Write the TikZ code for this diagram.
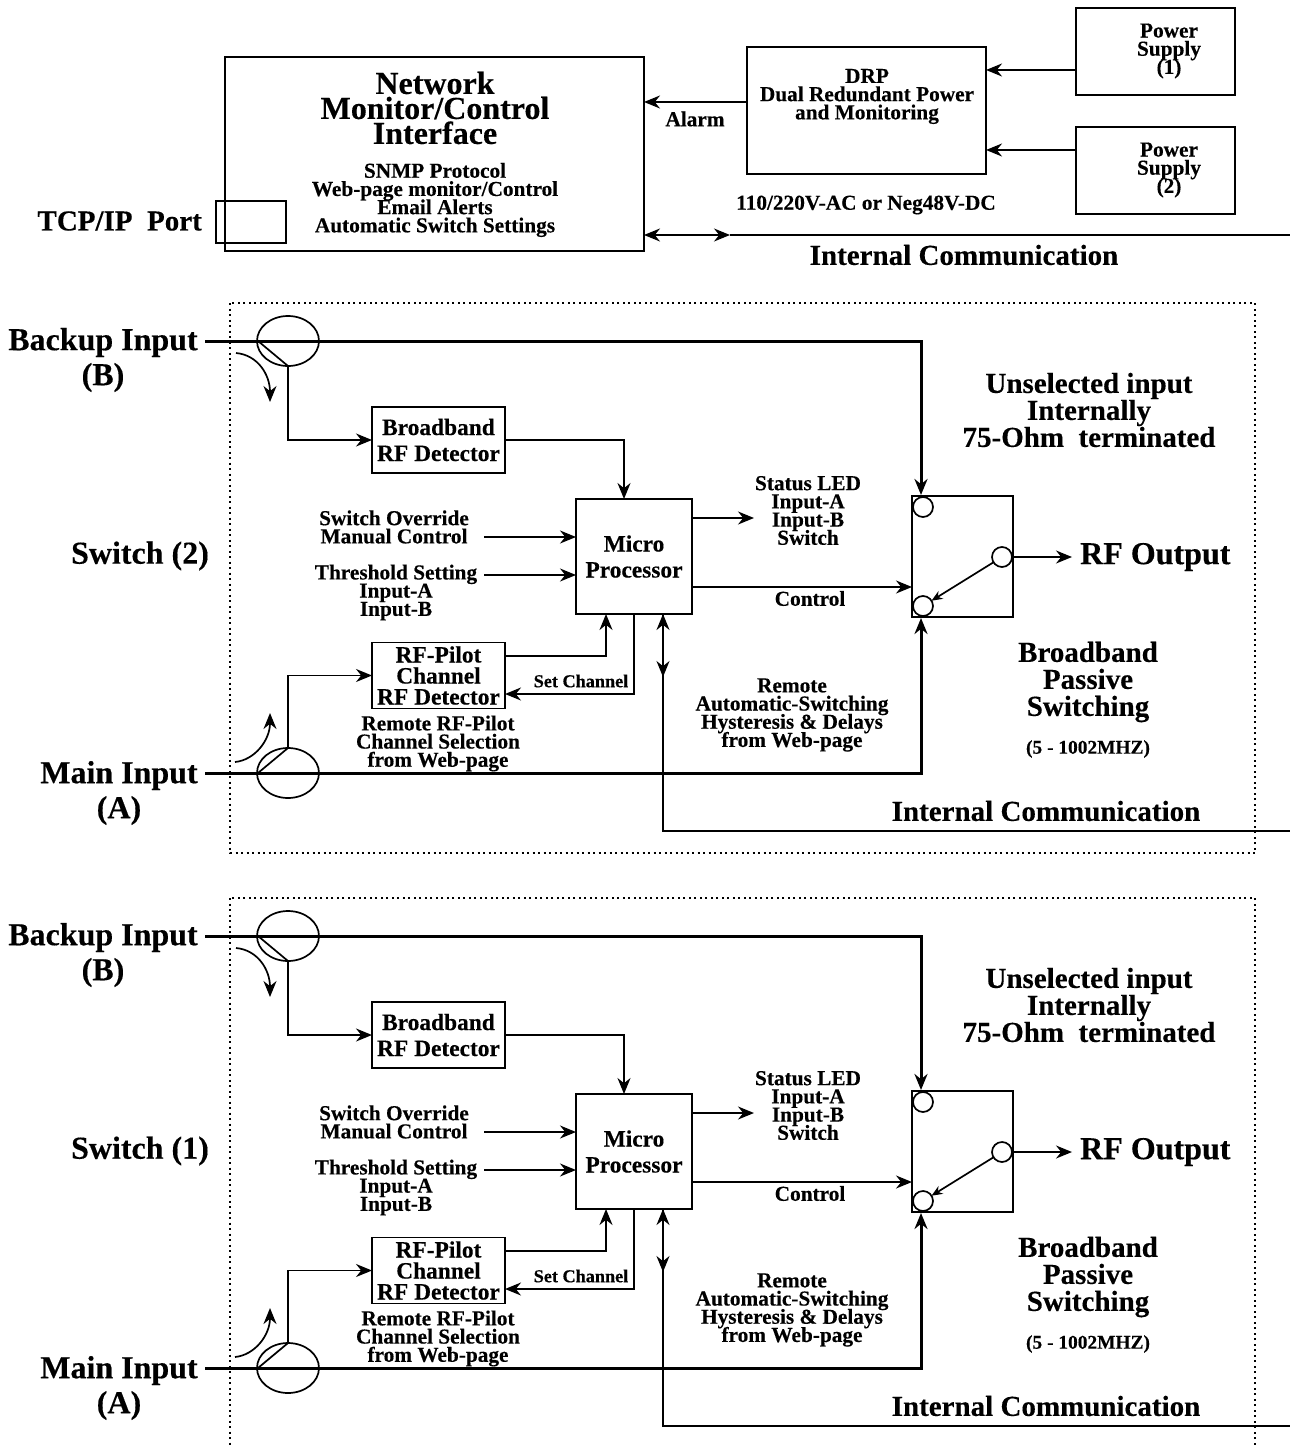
\documentclass[tikz,border=0pt]{standalone}
\usepackage{fontspec}
\setmainfont[BoldFeatures={FakeBold=0.3}]{Liberation Serif}
\usetikzlibrary{arrows.meta,shapes.geometric}
\lineskiplimit=-100pt
\tikzset{
  >={Stealth[length=16pt,width=13pt]},
  linethin/.style={line width=1.7pt},
  linethick/.style={line width=3pt},
  boxnode/.style={draw,line width=1.7pt,rectangle,outer sep=0pt,inner sep=0pt,align=center},
  tapnode/.style={draw,linethin,ellipse,minimum width=62pt,minimum height=50pt,inner sep=0pt,outer sep=0pt},
  contactnode/.style={draw,linethin,circle,minimum size=20pt,inner sep=0pt,outer sep=0pt},
  labelhuge/.style={font=\fontsize{32}{25}\selectfont\bfseries,align=center,inner sep=0pt},
  labelbig/.style={font=\fontsize{32}{35}\selectfont\bfseries,align=center,inner sep=0pt},
  labelmid/.style={font=\fontsize{29}{27}\selectfont\bfseries,align=center,inner sep=0pt},
  labelbox/.style={font=\fontsize{23.4}{26}\selectfont\bfseries,align=center},
  labelsmall/.style={font=\fontsize{21.3}{18.2}\selectfont\bfseries,align=center,inner sep=0pt},
  labeltiny/.style={font=\fontsize{18.2}{18}\selectfont\bfseries,align=center,inner sep=0pt},
}
\begin{document}
\begin{tikzpicture}[x=1pt,y=-1pt]
  \useasboundingbox (0,0) rectangle (1290,1447);
  \clip (0,0) rectangle (1290,1447);

  % Partie haute : interface reseau
  \node[boxnode,minimum width=419pt,minimum height=194pt] (network) at (434.5,154) {};
  \node[labelhuge] (networktitle) at (435,108) {Network\\Monitor/Control\\Interface};
  \node[labelsmall] (networklist) at (435,200) {SNMP Protocol\\Web-page monitor/Control\\Email Alerts\\Automatic Switch Settings};
  \node[boxnode,minimum width=70pt,minimum height=42pt] (tcpbox) at (251,222) {};
  \node[labelmid,anchor=east] (tcplabel) at (202,221) {TCP/IP\ \ Port};

  \node[boxnode,minimum width=239pt,minimum height=127pt] (drp) at (866.5,110.5) {};
  \node[labelsmall] (drptext) at (867,96.5) {DRP\\Dual Redundant Power\\and Monitoring};
  \node[labelsmall] (alarm) at (695,119) {Alarm};
  \node[labelsmall] (mains) at (866,205) {110/220V-AC or Neg48V-DC};

  \node[boxnode,minimum width=159pt,minimum height=87pt] (supplya) at (1155.5,51.5) {};
  \node[labelsmall] (supplyatext) at (1169,51) {Power\\Supply\\(1)};
  \node[boxnode,minimum width=159pt,minimum height=87pt] (supplyb) at (1155.5,170.5) {};
  \node[labelsmall] (supplybtext) at (1169,170) {Power\\Supply\\(2)};

  \draw[linethin,->] (supplya.west |- 0,70) -- (drp.east |- 0,70);
  \draw[linethin,->] (supplyb.west |- 0,150) -- (drp.east |- 0,150);
  \draw[linethin,->] (drp.west |- 0,102) -- (network.east |- 0,102);

  \coordinate (commtop) at (730,235);
  \coordinate (commtopend) at (1290,235);
  \draw[linethin,<->] (network.east |- commtop) -- (commtop);
  \draw[linethin] (commtop) -- (commtopend);
  \node[labelmid] (commtoplabel) at (964,255) {Internal Communication};

  % Les deux commutateurs
  \foreach \yo/\swname in {0/Switch (2), 595/Switch (1)} {
    \begin{scope}[shift={(0,\yo)}]
      \draw[line width=1.5pt,dash pattern=on 2pt off 3.5pt] (230,303) rectangle (1255,853);

      \node[labelbig] (backup) at (103,360) {Backup Input\\(B)};
      \node[labelbig] (main) at (119,793) {Main Input\\(A)};
      \node[labelbig] (swlabel) at (140,556) {\swname};

      % Coupleurs d'entree
      \node[tapnode] (tapb) at (288,341) {};
      \node[tapnode] (tapa) at (288,773) {};

      % Blocs
      \node[boxnode,labelbox,minimum width=133pt,minimum height=66pt] (detector) at (438.5,440) {Broadband\\RF Detector};
      \node[boxnode,labelbox,minimum width=133pt,minimum height=66pt,font=\fontsize{23.4}{21}\selectfont\bfseries] (pilot) at (438.5,675.5) {RF-Pilot\\Channel\\RF Detector};
      \node[boxnode,labelbox,minimum width=116pt,minimum height=115pt] (micro) at (634,556.5) {Micro\\Processor};
      \node[boxnode,minimum width=101pt,minimum height=121pt] (rfswitch) at (962.5,556.5) {};
      \node[contactnode] (contactb) at (923,507) {};
      \node[contactnode] (contacta) at (923,606) {};
      \node[contactnode] (contactout) at (1002,557) {};

      % Textes
      \node[labelsmall] (statusled) at (808,510.5) {Status LED\\Input-A\\Input-B\\Switch};
      \node[labelsmall] (override) at (394,527) {Switch Override\\Manual Control};
      \node[labelsmall] (threshold) at (396,592.5) {Threshold Setting\\Input-A\\Input-B};
      \node[labelsmall] (control) at (810,598.5) {Control};
      \node[labeltiny] (setchannel) at (581,681) {Set Channel};
      \node[labelsmall] (remotepilot) at (438,743.5) {Remote RF-Pilot\\Channel Selection\\from Web-page};
      \node[labelsmall] (remoteauto) at (792,715) {Remote\\Automatic-Switching\\Hysteresis \& Delays\\from Web-page};
      \node[labelmid] (unselected) at (1089,410) {Unselected input\\Internally\\75-Ohm\ \ terminated};
      \node[labelmid] (passive) at (1088,682) {Broadband\\Passive\\Switching};
      \node[labeltiny,font=\fontsize{19.4}{18}\selectfont\bfseries] (range) at (1088,749) {(5 - 1002MHZ)};
      \node[labelbig,anchor=west] (rfout) at (1080,557) {RF Output};
      \node[labelmid] (commlabel) at (1046,811) {Internal Communication};

      % Entree B
      \coordinate (backupstart) at (205,341);
      \draw[linethick,->] (backupstart) -- (921,341) -- (921,495);
      \draw[linethin] (258,341) -- (tapb.south);
      \draw[linethin,->] (tapb.south) |- (detector.west);
      \draw[linethin,->] (236,353) .. controls (258,355) and (270,375) .. (270,402);

      % Entree A
      \coordinate (mainstart) at (205,773);
      \draw[linethick,->] (mainstart) -- (921,773) -- (921,618);
      \draw[linethin] (258,773) -- (tapa.north);
      \draw[linethin,->] (tapa.north) |- (pilot.west);
      \draw[linethin,->] (235,762) .. controls (255,760) and (270,740) .. (270,713);

      % Liaisons du microprocesseur
      \coordinate (overrideout) at (484,537);
      \coordinate (thresholdout) at (484,575);
      \coordinate (statusin) at (754,518);
      \coordinate (controlin) at (912,587);
      \draw[linethin,->] (detector.east) -| ([xshift=-10pt]micro.north);
      \draw[linethin,->] (micro.east |- statusin) -- (statusin);
      \draw[linethin,->] (overrideout) -- (micro.west |- overrideout);
      \draw[linethin,->] (thresholdout) -- (micro.west |- thresholdout);
      \draw[linethin,->] (micro.east |- controlin) -- (controlin);
      \draw[linethin,->] (pilot.east |- 0,656) -| ([xshift=-28pt]micro.south);
      \draw[linethin,->] (micro.south) |- (pilot.east |- 0,694);
      \draw[linethin,<->] ([xshift=29pt]micro.south) -- ++(0,63);
      \coordinate (commend) at (1290,831);
      \draw[linethin] ([xshift=29pt]micro.south) |- (commend);

      % Sortie RF
      \coordinate (rfoutend) at (1072,557);
      \draw[linethin,->] (rfswitch.east |- rfoutend) -- (rfoutend);
      \draw[linethin,-{Stealth[length=11pt,width=9pt]}] (contactout) -- (contacta);
    \end{scope}
  }
\end{tikzpicture}
\end{document}
